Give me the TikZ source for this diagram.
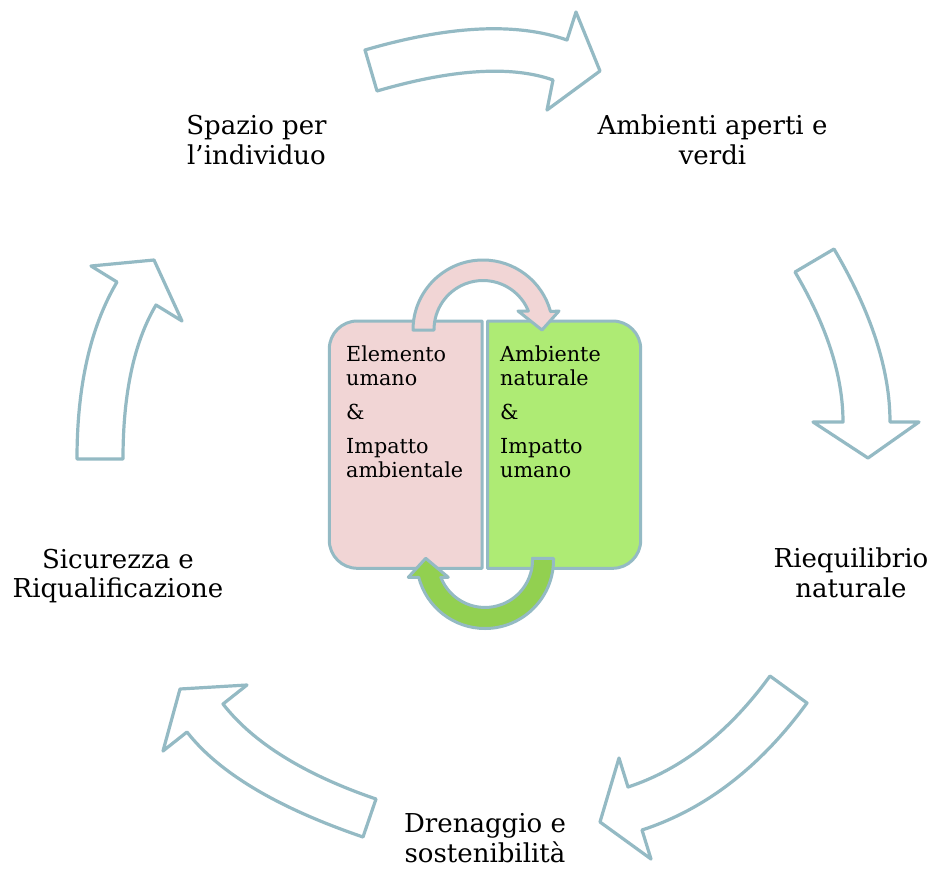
\documentclass[tikz,border=0pt]{standalone}
\usepackage{fontspec}
\setmainfont{DejaVu Serif}
\definecolor{bord}{RGB}{148,186,196}
\definecolor{pinkf}{RGB}{241,213,213}
\definecolor{greenbox}{RGB}{174,235,116}
\definecolor{greenarr}{RGB}{146,208,80}
\tikzset{
  cycarrow/.style={draw=bord, line width=3.2pt, fill=white, line join=round},
  pinkbox/.style={draw=bord, line width=3pt, fill=pinkf, line join=round},
  greenbx/.style={draw=bord, line width=3pt, fill=greenbox, line join=round},
  pinkarrow/.style={draw=bord, line width=3pt, fill=pinkf, line join=round},
  greenarrow/.style={draw=bord, line width=3pt, fill=greenarr, line join=round},
  lbl/.style={align=center, inner sep=0pt, font=\fontsize{26}{29.5}\selectfont},
  boxtxt/.style={align=left, inner sep=0pt, anchor=north west, font=\fontsize{20.7}{24}\selectfont}
}
\begin{document}
\begin{tikzpicture}[x=1pt,y=1pt]
\useasboundingbox (0,0) rectangle (935,-870);
\fill[white] (0,0) rectangle (935,-870);

% outer cycle arrows
\draw[cycarrow] (377,-91) .. controls (452.6,-69) and (511.3,-65.3) .. (553,-80) -- (547,-110) -- (600,-71) -- (576,-12) -- (567,-40) .. controls (516.3,-22.2) and (449,-25.5) .. (365,-50) -- cycle;
\draw[cycarrow] (795,-272) .. controls (827,-326.2) and (843,-376.2) .. (843,-422) -- (813,-422) -- (868,-458) -- (919,-422) -- (890,-422) .. controls (890,-369.9) and (871.3,-312.2) .. (834,-249) -- cycle;
\draw[cycarrow] (770,-676) .. controls (728.7,-732.6) and (681.3,-769.6) .. (628,-787) -- (619,-758) -- (600,-822) -- (651,-859) -- (642,-830) .. controls (705.2,-809.4) and (760.2,-767.1) .. (807,-703) -- cycle;
\draw[cycarrow] (376,-799) .. controls (304.1,-774.4) and (253.1,-742.7) .. (223,-704) -- (247,-685) -- (180,-689) -- (163,-751) -- (187,-732) .. controls (218.7,-772.7) and (277.3,-807.7) .. (363,-837) -- cycle;
\draw[cycarrow] (123,-459) .. controls (123,-393.6) and (134,-342.3) .. (156,-305) -- (182,-321) -- (154,-260) -- (91,-266) -- (117,-282) .. controls (90.3,-327.2) and (77,-386.2) .. (77,-459) -- cycle;

% outer labels
\node[lbl] (spazio) at (256.5,-140) {Spazio per\\l’individuo};
\node[lbl] (ambienti) at (712.5,-140) {Ambienti aperti e\\verdi};
\node[lbl] (riequ) at (851,-573) {Riequilibrio\\naturale};
\node[lbl] (dren) at (485,-838) {Drenaggio e\\sostenibilità};
\node[lbl] (sicur) at (118,-576) {Sicurezza e\\Riqualificazione};

% central boxes
\draw[pinkbox] (405,-321) [rounded corners=28pt] -- (329.3,-321) -- (329.3,-568.3) -- (405,-568.3) [sharp corners] -- (482,-568.3) -- (482,-321) -- cycle;
\draw[greenbx] (560,-321) [rounded corners=28pt] -- (640.7,-321) -- (640.7,-568.3) -- (560,-568.3) [sharp corners] -- (487.5,-568.3) -- (487.5,-321) -- cycle;

% central arrows
\draw[pinkarrow] (413,-330) arc[start angle=180, end angle=15.3, radius=70] -- (559,-311) -- (542,-330) -- (518,-311) -- (528.4,-311) arc[start angle=22.2, end angle=180, radius=49] -- (434,-330) -- cycle;
\draw[greenarrow] (553.5,-558.3) -- (553.5,-560) arc[start angle=0, end angle=-165.4, radius=68.5] -- (408.3,-577.3) -- (425.7,-558.3) -- (448.3,-577.3) -- (440.8,-577.3) arc[start angle=-158.6, end angle=0, radius=47.5] -- (532.5,-558.3) -- cycle;

% box texts
\node[boxtxt] (elem) at (346,-346) {Elemento\\umano\\[10pt]\&\\[10pt]Impatto\\ambientale};
\node[boxtxt] (amb) at (500,-346) {Ambiente\\naturale\\[10pt]\&\\[10pt]Impatto\\umano};
\end{tikzpicture}
\end{document}
